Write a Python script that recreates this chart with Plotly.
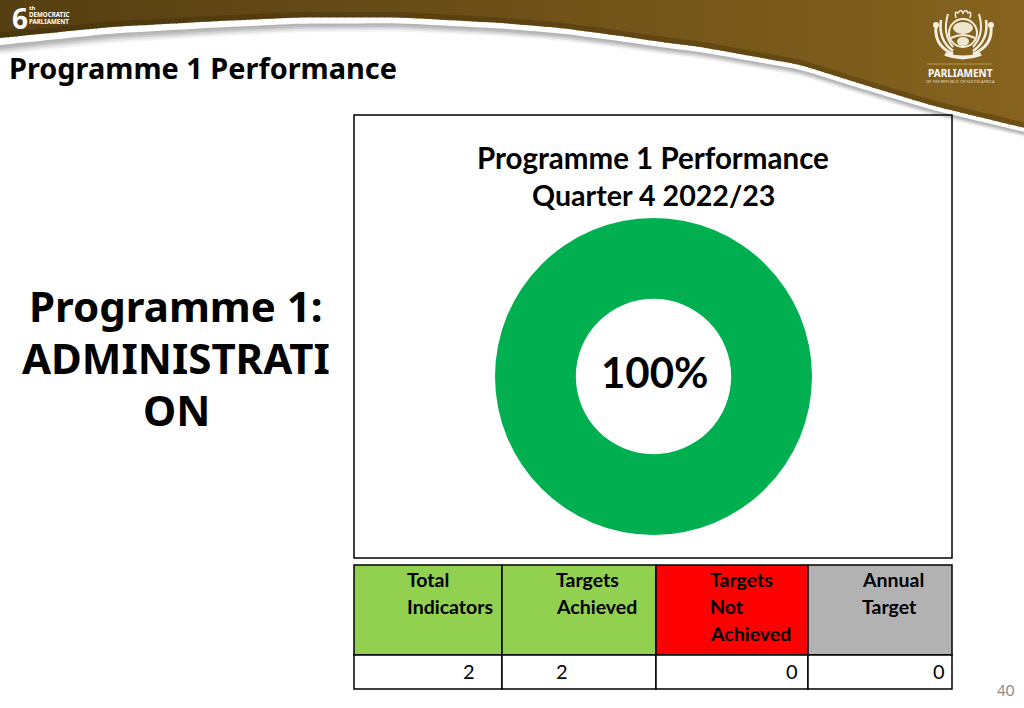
import numpy as np
import plotly.graph_objects as go

W, H = 1024, 708

# data
slice_labels = ['Targets Achieved', 'Targets Not Achieved']
slice_values = [2, 0]
slice_colors = ['#00b050', '#ff0000']

table_headers = [['Total', 'Indicators'], ['Targets', 'Achieved'], ['Targets', 'Not', 'Achieved'], ['Annual', 'Target']]
table_values = [2, 2, 0, 0]
header_colors = ['#92d050', '#92d050', '#ff0000', '#b2b2b2']


def px(x):
    return x / W


def py(y):
    return 1 - y / H


def text(x, y, s, size, color='black', font='Lato', bold=False, xanchor='center'):
    if bold:
        s = '<b>' + s + '</b>'
    return dict(x=px(x), y=py(y), xref='paper', yref='paper', text=s, showarrow=False,
                xanchor=xanchor, yanchor='middle', font=dict(size=size, color=color, family=font))


def box(x0, y0, x1, y1, fill='rgba(0,0,0,0)', line='black', width=1.5):
    return dict(type='rect', xref='paper', yref='paper', x0=px(x0), x1=px(x1), y0=py(y0), y1=py(y1),
                fillcolor=fill, line=dict(color=line, width=width))


def stroke(points, color='#f5efe0', width=2):
    # points: start, then (control, end) pairs of quadratic curves
    d = f'M{px(points[0][0]):.5f},{py(points[0][1]):.5f}'
    for c, e in zip(points[1::2], points[2::2]):
        d += f' Q{px(c[0]):.5f},{py(c[1]):.5f} {px(e[0]):.5f},{py(e[1]):.5f}'
    return dict(type='path', xref='paper', yref='paper', path=d, line=dict(color=color, width=width))


def oval(x0, y0, x1, y1, fill='rgba(0,0,0,0)', line='#f5efe0', width=0):
    return dict(type='circle', xref='paper', yref='paper', x0=px(x0), x1=px(x1), y0=py(y0), y1=py(y1),
                fillcolor=fill, line=dict(color=line, width=width))


# banner curve
curve_x = [0, 110, 220, 300, 400, 500, 560, 620, 667, 700, 800, 867, 933, 1024]
curve_y = [38, 27, 21, 17.5, 17.5, 23, 28, 36, 43, 47, 65, 86, 106, 128]
xs = np.arange(0, W + 8, 8)
edge = np.interp(xs, curve_x, curve_y)
# smooth the kinks of the polyline a little
edge[1:-1] = (edge[:-2] + edge[1:-1] + edge[2:]) / 3
shrink = 1 - 0.45 * xs / W


def band(offset, color):
    pts = ' L'.join(f'{px(x):.5f},{py(y + offset * s):.5f}' for x, y, s in zip(xs, edge, shrink))
    path = f'M0,1 L{pts} L1,1 Z'
    return dict(type='path', xref='paper', yref='paper', path=path, fillcolor=color, line_width=0)


shapes = [band(17, '#f4f4f4'), band(15, '#e4e4e4'), band(13, '#d0d0d0'), band(11, '#bcbcbc'),
          band(9, '#b4b4b4'), band(7, '#ffffff')]

# brown part is darker to the left
for i in range(len(xs) - 1):
    t = i / (len(xs) - 2)
    c = f'rgb({int(86 + 48 * t)},{int(63 + 36 * t)},{int(18 + 12 * t)})'
    path = (f'M{px(xs[i]):.5f},1 L{px(xs[i + 1] + 1):.5f},1 '
            f'L{px(xs[i + 1] + 1):.5f},{py(edge[i + 1]):.5f} L{px(xs[i]):.5f},{py(edge[i]):.5f} Z')
    shapes.append(dict(type='path', xref='paper', yref='paper', path=path, fillcolor=c, line_width=0))

# darker rim along the lower edge of the brown
rim = ' L'.join(f'{px(x):.5f},{py(y - 3):.5f}' for x, y in zip(xs, edge))
shapes.append(dict(type='path', xref='paper', yref='paper', path='M' + rim,
                   line=dict(color='rgba(50,35,5,0.3)', width=5)))

# crest
shapes += [
    oval(949, 19, 977, 47, line='#f5efe0', width=2),
    oval(953, 22, 973, 34, fill='#efe6d0'),
    stroke([(951, 38), (963, 32), (975, 38)], color='#f5efe0', width=2),
    oval(957, 37, 969, 46, fill='#efe6d0'),
    stroke([(956, 18), (954, 10), (958, 13), (961, 8), (963, 13), (966, 8), (968, 13), (972, 10), (970, 18)],
           width=1.5),
    stroke([(936, 26), (934, 46), (953, 54)], width=3),
    stroke([(941, 20), (938, 40), (953, 51)], width=2.5),
    stroke([(948, 14), (942, 34), (953, 47)], width=2),
    stroke([(991, 26), (993, 46), (973, 54)], width=3),
    stroke([(986, 20), (989, 40), (973, 51)], width=2.5),
    stroke([(979, 14), (985, 34), (973, 47)], width=2),
    oval(933, 22, 939, 28, fill='#f5efe0'),
    oval(988, 22, 994, 28, fill='#f5efe0'),
    stroke([(945, 54), (963, 61), (981, 54)], width=4),
    dict(type='line', xref='paper', yref='paper', x0=px(927), x1=px(992), y0=py(64), y1=py(64),
         line=dict(color='#b89a55', width=1)),
]

# chart frame
shapes.append(box(354, 115, 952, 558))

# table
col_x = [354, 502, 656, 808, 952]
row_y = [565, 655, 689]
for i in range(4):
    shapes.append(box(col_x[i], row_y[0], col_x[i + 1], row_y[1], fill=header_colors[i]))
    shapes.append(box(col_x[i], row_y[1], col_x[i + 1], row_y[2], fill='white'))

annotations = [
    text(7, 67, 'Programme 1 Performance', 28.9, font='Noto Sans', bold=True, xanchor='left'),
    text(176, 305, 'Programme 1:', 42, font='Noto Sans', bold=True),
    text(176, 357, 'ADMINISTRATI', 42, font='Noto Sans', bold=True),
    text(176, 409, 'ON', 42, font='Noto Sans', bold=True),
    text(653, 157, 'Programme 1 Performance', 29.5, bold=True),
    text(653, 195, 'Quarter 4 2022/23', 28.6, bold=True),
    text(655, 372, f'{round(slice_values[0] / table_values[0] * 100)}%', 42, bold=True),
    text(1006, 690, '40', 15, color='#8c8c8c'),
    text(10, 18, '6', 28, color='white', font='Noto Sans', bold=True, xanchor='left'),
    text(27, 8, 'th', 6, color='white', font='Noto Sans', bold=True, xanchor='left'),
    text(27, 14.5, 'DEMOCRATIC', 6.2, color='white', font='Noto Sans', bold=True, xanchor='left'),
    text(27, 21, 'PARLIAMENT', 6.2, color='white', font='Noto Sans', bold=True, xanchor='left'),
    text(960, 73, 'PARLIAMENT', 10, color='white', font='Noto Sans', bold=True),
    text(960, 81, 'OF THE REPUBLIC OF SOUTH AFRICA', 4, color='#e8dcc0', font='Noto Sans'),
]

header_x = [405, 554, 708, 860]
value_x = [469, 562, 792, 939]
for i in range(4):
    for j, line in enumerate(table_headers[i]):
        annotations.append(text(header_x[i], 579 + 27 * j, line, 19.5, bold=True, xanchor='left'))
    annotations.append(text(value_x[i], 671, str(table_values[i]), 20))

fig = go.Figure()
fig.add_trace(go.Pie(
    labels=slice_labels, values=slice_values, hole=0.49, sort=False,
    marker=dict(colors=slice_colors), textinfo='none', showlegend=False,
    domain=dict(x=[px(495), px(812)], y=[py(535), py(218)])))

fig.update_layout(
    width=W, height=H, margin=dict(l=0, r=0, t=0, b=0), autosize=False,
    paper_bgcolor='white', plot_bgcolor='white',
    shapes=shapes, annotations=annotations)

fig.write_html('out.html', config=dict(displayModeBar=False),
               post_script="document.body.style.margin='0';document.documentElement.style.overflow='hidden';")
